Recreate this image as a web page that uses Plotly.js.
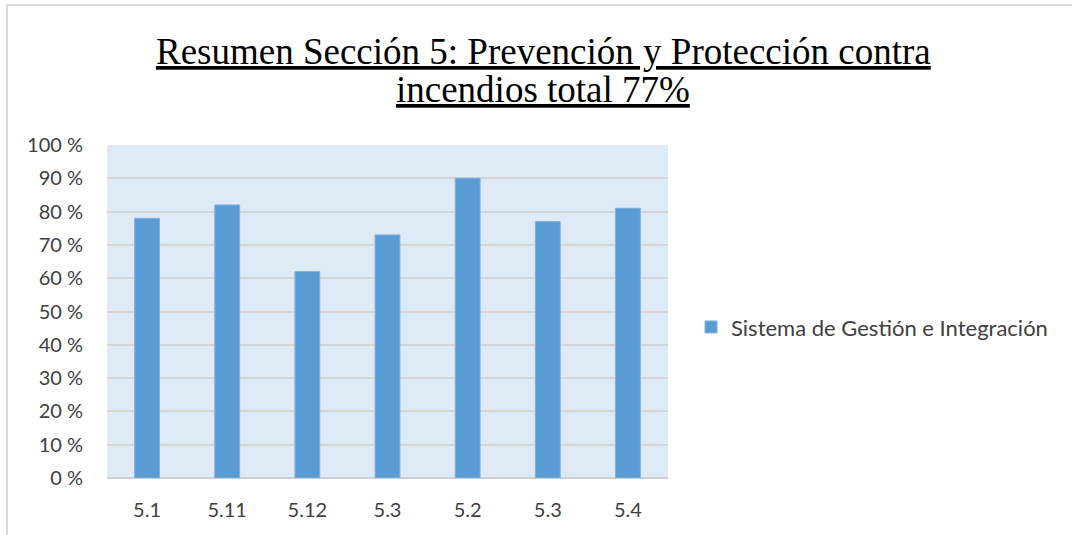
<!DOCTYPE html>
<html>
<head>
<meta charset="utf-8">
<script src="https://cdn.plot.ly/plotly-3.0.1.min.js"></script>
<style>
  html, body { margin: 0; padding: 0; background: #fff; }
  #wrap { position: relative; width: 1072px; height: 535px; }
  #chart { width: 1072px; height: 535px; }
  #frame { position: absolute; left: 6px; top: 4px; right: 0; bottom: 0;
           border-top: 2px solid #DADADA; border-left: 2px solid #DADADA; pointer-events: none; }
</style>
</head>
<body>
<div id="wrap">
  <div id="chart"></div>
  <div id="frame"></div>
</div>
<script>
// Data
const categories = ["5.1", "5.11", "5.12", "5.3", "5.2", "5.3", "5.4"];
const values = [78, 82, 62, 73, 90, 77, 81];
const seriesName = "Sistema de Gestión e Integración";
const titleLines = ["Resumen Sección 5: Prevención y Protección contra", "incendios total 77%"];
const yTickValues = [0, 10, 20, 30, 40, 50, 60, 70, 80, 90, 100];
const yTickLabels = ["0 %", "10 %", "20 %", "30 %", "40 %", "50 %", "60 %", "70 %", "80 %", "90 %", "100 %"];

const positions = categories.map((c, i) => i);

const trace = {
  type: "bar",
  x: positions,
  y: values,
  name: seriesName,
  width: 0.31,
  marker: { color: "#5B9BD5", line: { color: "#7FB1E0", width: 1 } },
  showlegend: true,
  hoverinfo: "skip"
};

const tickFont = { family: "Lato, 'Open Sans', sans-serif", size: 20, color: "#404040" };
const titleFont = { family: "'Liberation Serif', 'Times New Roman', serif", size: 37, color: "#000000" };

const layout = {
  width: 1072,
  height: 535,
  margin: { l: 107, r: 404, t: 145, b: 57 },
  paper_bgcolor: "#FFFFFF",
  plot_bgcolor: "#DEEAF6",
  annotations: [
    {
      text: "<u>" + titleLines[0] + "</u>",
      xref: "paper", yref: "paper",
      x: (543 - 107) / 561, y: 1.282,
      xanchor: "center", yanchor: "middle",
      showarrow: false, font: titleFont
    },
    {
      text: "<u>" + titleLines[1] + "</u>",
      xref: "paper", yref: "paper",
      x: (543 - 107) / 561, y: 1.168,
      xanchor: "center", yanchor: "middle",
      showarrow: false, font: titleFont
    }
  ],
  xaxis: {
    tickmode: "array",
    tickvals: positions,
    ticktext: categories,
    range: [-0.5, categories.length - 0.5],
    showgrid: false,
    zeroline: false,
    showline: false,
    ticks: "",
    tickfont: tickFont,
    ticklabelstandoff: 18
  },
  yaxis: {
    range: [0, 100],
    tickmode: "array",
    tickvals: yTickValues,
    ticktext: yTickLabels,
    showgrid: true,
    gridcolor: "#D4D4D4",
    gridwidth: 2,
    zeroline: true,
    zerolinecolor: "#CFCFCF",
    zerolinewidth: 2,
    showline: false,
    ticks: "",
    tickfont: tickFont,
    ticklabelstandoff: 23
  },
  legend: {
    x: 1.041,
    xanchor: "left",
    y: 0.453,
    yanchor: "middle",
    font: { family: "Lato, 'Open Sans', sans-serif", size: 22, color: "#404040" },
    itemwidth: 30,
    bgcolor: "rgba(0,0,0,0)"
  },
  bargap: 0.69,
  showlegend: true
};

Plotly.newPlot("chart", [trace], layout, { displayModeBar: false, staticPlot: true });
</script>
</body>
</html>
